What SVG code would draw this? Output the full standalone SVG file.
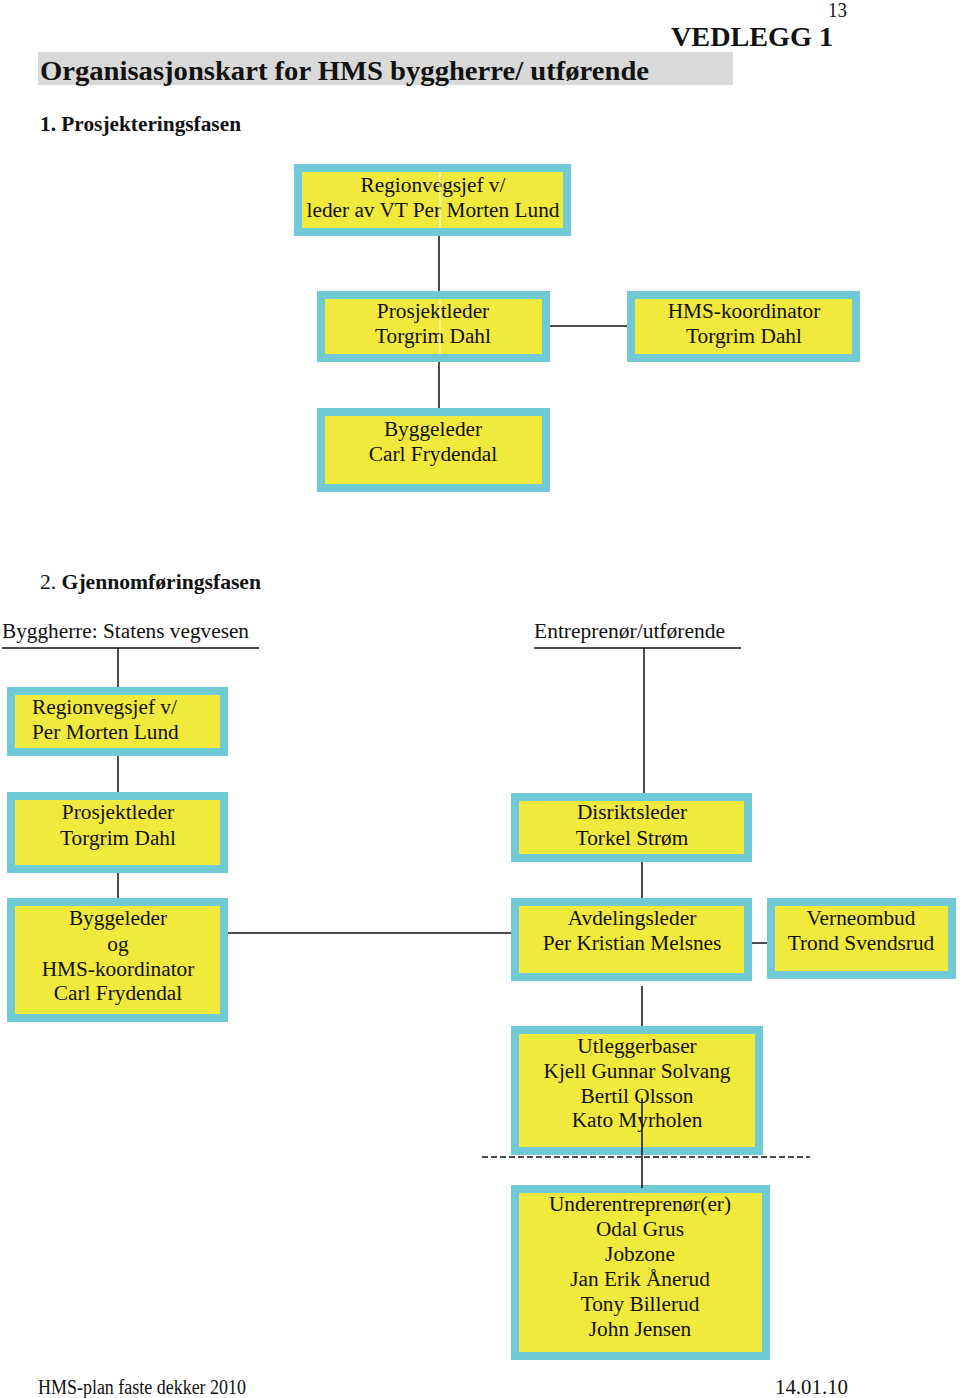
<svg xmlns="http://www.w3.org/2000/svg" width="960" height="1398" viewBox="0 0 960 1398">
<style>
.box{fill:#F1E93B;stroke:#6FCAD6;stroke-width:8}
.t{font-family:"Liberation Serif",serif;font-size:21.3px;fill:#111;text-anchor:middle}
.tl{font-family:"Liberation Serif",serif;font-size:21.3px;fill:#111}
.b{font-family:"Liberation Serif",serif;font-weight:bold;fill:#111}
.ln{stroke:#111;stroke-width:1.5;fill:none}
.art{stroke:#fff;stroke-width:1}
</style>
<rect width="960" height="1398" fill="#fff"/>
<g id="header">
<text class="tl" x="828" y="17" font-size="16" textLength="19" lengthAdjust="spacingAndGlyphs">13</text>
<text class="b" x="671" y="46" font-size="28" textLength="162" lengthAdjust="spacingAndGlyphs">VEDLEGG 1</text>
<rect x="38" y="52" width="695" height="33" fill="#D9D9D9"/>
<text class="b" x="40" y="80" font-size="28" textLength="609" lengthAdjust="spacingAndGlyphs">Organisasjonskart for HMS byggherre/ utførende</text>
<text class="b" x="40" y="131" font-size="20" textLength="201" lengthAdjust="spacingAndGlyphs">1. Prosjekteringsfasen</text>
<text class="tl" x="40" y="589" font-size="20" textLength="221" lengthAdjust="spacingAndGlyphs">2. <tspan font-weight="bold">Gjennomføringsfasen</tspan></text>
<text class="tl" x="2" y="638" textLength="247" lengthAdjust="spacingAndGlyphs">Byggherre: Statens vegvesen</text>
<text class="tl" x="534" y="638" textLength="191" lengthAdjust="spacingAndGlyphs">Entreprenør/utførende</text>
</g>
<g id="connectors">
<line class="ln" x1="439" y1="236" x2="439" y2="291"/>
<line class="ln" x1="550" y1="326" x2="627" y2="326"/>
<line class="ln" x1="439" y1="362" x2="439" y2="408"/>
<line class="ln" x1="2" y1="648" x2="259" y2="648"/>
<line class="ln" x1="534" y1="648" x2="741" y2="648"/>
<line class="ln" x1="118" y1="648" x2="118" y2="687"/>
<line class="ln" x1="118" y1="756" x2="118" y2="792"/>
<line class="ln" x1="118" y1="873" x2="118" y2="898"/>
<line class="ln" x1="228" y1="933" x2="512" y2="933"/>
<line class="ln" x1="644" y1="648" x2="644" y2="793"/>
<line class="ln" x1="642" y1="862" x2="642" y2="898"/>
<line class="ln" x1="752" y1="943" x2="767" y2="943"/>
<line class="ln" x1="642" y1="986" x2="642" y2="1026"/>
<line x1="482" y1="1157" x2="810" y2="1157" stroke="#111" stroke-width="1.5" stroke-dasharray="6,3"/>
</g>
<g id="n1"><rect class="box" x="298" y="168" width="269" height="64"/>
<text class="t" x="433" y="192">Regionvegsjef v/</text><text class="t" x="433" y="217">leder av VT Per Morten Lund</text>
<line class="art" x1="440" y1="172" x2="440" y2="228"/></g>
<g id="n2"><rect class="box" x="321" y="295" width="225" height="63"/>
<text class="t" x="433" y="318">Prosjektleder</text><text class="t" x="433" y="343">Torgrim Dahl</text>
<line class="art" x1="440" y1="299" x2="440" y2="354"/></g>
<g id="n3"><rect class="box" x="631" y="295" width="225" height="63"/>
<text class="t" x="744" y="318">HMS-koordinator</text><text class="t" x="744" y="343">Torgrim Dahl</text></g>
<g id="n4"><rect class="box" x="321" y="412" width="225" height="76"/>
<text class="t" x="433" y="436">Byggeleder</text><text class="t" x="433" y="461">Carl Frydendal</text></g>
<g id="n5"><rect class="box" x="11" y="691" width="213" height="61"/>
<text class="tl" x="32" y="714">Regionvegsjef v/</text><text class="tl" x="32" y="739">Per Morten Lund</text></g>
<g id="n6"><rect class="box" x="11" y="796" width="213" height="73"/>
<text class="t" x="118" y="819">Prosjektleder</text><text class="t" x="118" y="845">Torgrim Dahl</text></g>
<g id="n7"><rect class="box" x="11" y="902" width="213" height="116"/>
<text class="t" x="118" y="925">Byggeleder</text><text class="t" x="118" y="951">og</text><text class="t" x="118" y="976">HMS-koordinator</text><text class="t" x="118" y="1000">Carl Frydendal</text></g>
<g id="n8"><rect class="box" x="515" y="797" width="233" height="61"/>
<text class="t" x="632" y="819">Disriktsleder</text><text class="t" x="632" y="845">Torkel Strøm</text></g>
<g id="n9"><rect class="box" x="515" y="902" width="233" height="75"/>
<text class="t" x="632" y="925">Avdelingsleder</text><text class="t" x="632" y="950">Per Kristian Melsnes</text></g>
<g id="n10"><rect class="box" x="771" y="902" width="181" height="73"/>
<text class="t" x="861" y="925">Verneombud</text><text class="t" x="861" y="950">Trond Svendsrud</text></g>
<g id="n11"><rect class="box" x="515" y="1030" width="244" height="121"/>
<text class="t" x="637" y="1053">Utleggerbaser</text><text class="t" x="637" y="1078">Kjell Gunnar Solvang</text><text class="t" x="637" y="1103">Bertil Olsson</text><text class="t" x="637" y="1127">Kato Myrholen</text></g>
<g id="n12"><rect class="box" x="515" y="1189" width="251" height="167"/>
<text class="t" x="640" y="1211">Underentreprenør(er)</text><text class="t" x="640" y="1236">Odal Grus</text><text class="t" x="640" y="1261">Jobzone</text><text class="t" x="640" y="1286">Jan Erik Ånerud</text><text class="t" x="640" y="1311">Tony Billerud</text><text class="t" x="640" y="1336">John Jensen</text></g>
<g id="connectors-over">
<line class="ln" x1="642" y1="1098" x2="642" y2="1188"/>
</g>
<g id="footer">
<text class="tl" x="38" y="1394" font-size="17" textLength="208" lengthAdjust="spacingAndGlyphs">HMS-plan faste dekker 2010</text>
<text class="tl" x="775" y="1394" font-size="20" textLength="73" lengthAdjust="spacingAndGlyphs">14.01.10</text>
</g>
</svg>
